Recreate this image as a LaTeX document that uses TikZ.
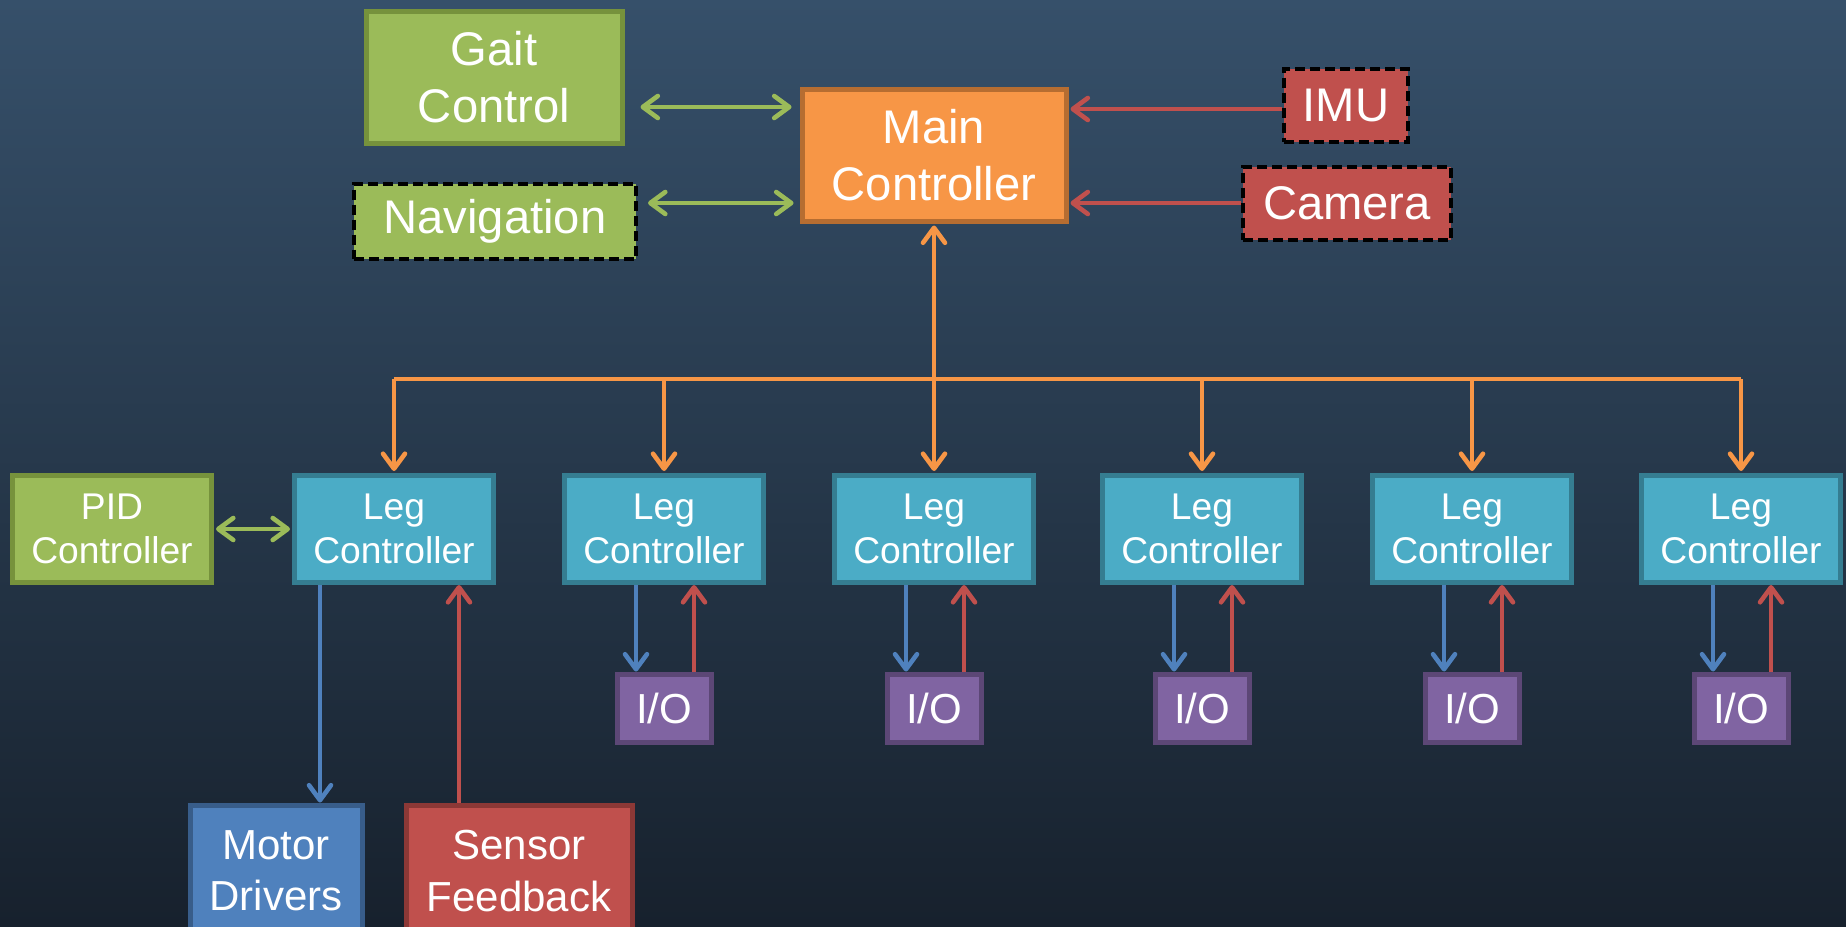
\documentclass[tikz,border=0pt]{standalone}
\usepackage{fontspec}
\setmainfont{Liberation Sans}
\usetikzlibrary{arrows.meta,positioning}
\definecolor{RoboNight}{HTML}{36506A}
\definecolor{RoboInk}{HTML}{17212D}
\definecolor{RoboGreen}{HTML}{9BBB59}
\definecolor{RoboGreenD}{HTML}{76923C}
\definecolor{RoboOrange}{HTML}{F79646}
\definecolor{RoboOrangeD}{HTML}{B66D31}
\definecolor{RoboRed}{HTML}{C0504D}
\definecolor{RoboRedD}{HTML}{8C3836}
\definecolor{RoboTeal}{HTML}{4BACC6}
\definecolor{RoboTealD}{HTML}{357D91}
\definecolor{RoboPurple}{HTML}{8064A2}
\definecolor{RoboPurpleD}{HTML}{5C4776}
\definecolor{RoboBlue}{HTML}{4F81BD}
\definecolor{RoboBlueD}{HTML}{385D8A}
\tikzset{
  blk/.style={rectangle,text=white,align=center,inner sep=0pt,line width=2.5pt},
  bigtxt/.style={font=\fontsize{23.6}{28.3}\selectfont},
  midtxt/.style={font=\fontsize{21}{25.6}\selectfont},
  smalltxt/.style={font=\fontsize{18.6}{22.3}\selectfont},
  dashbox/.style={draw=black,line width=2pt,dash pattern=on 5pt off 2.5pt},
  leg/.style={blk,smalltxt,fill=RoboTeal,draw=RoboTealD,minimum width=99.5pt,minimum height=53.5pt},
  iobox/.style={blk,midtxt,fill=RoboPurple,draw=RoboPurpleD,minimum width=47pt,minimum height=34pt},
  arr/.style={line width=2.3pt,-{Straight Barb[length=7.5pt,width=11pt,round]}},
  garr/.style={arr,RoboGreen,{Straight Barb[length=7.5pt,width=11pt,round]}-{Straight Barb[length=7.5pt,width=11pt,round]}},
  oarr/.style={arr,RoboOrange},
  rarr/.style={arr,RoboRed},
  barr/.style={arr,RoboBlue}
}
\begin{document}
\begin{tikzpicture}[x=.5pt,y=-.5pt]
\useasboundingbox (0,0) rectangle (1846,926);
\fill[top color=RoboNight,bottom color=RoboInk] (0,0) rectangle (1846,926);
% upper level
\node[blk,bigtxt,fill=RoboGreen,draw=RoboGreenD,minimum width=128pt,minimum height=66pt] (gait) at (494,77) {Gait\\Control};
\node[blk,bigtxt,fill=RoboGreen,dashbox,minimum width=141pt,minimum height=37.5pt] (nav) at (495,221) {\raisebox{-2pt}{Navigation}};
\node[blk,bigtxt,fill=RoboOrange,draw=RoboOrangeD,minimum width=132pt,minimum height=66pt] (main) at (934,155) {Main\\Controller};
\node[blk,bigtxt,fill=RoboRed,dashbox,minimum width=62pt,minimum height=36.5pt] (imu) at (1346,105) {IMU};
\node[blk,bigtxt,fill=RoboRed,dashbox,minimum width=104pt,minimum height=36.5pt] (cam) at (1347,203) {Camera};
% legs
\foreach \i/\x in {1/394,2/664,3/934,4/1202,5/1472,6/1741}
  \node[leg] (leg\i) at (\x,529) {Leg\\Controller};
\foreach \i in {2,...,6}
  \node[iobox] (io\i) at (leg\i |- 0,708) {I/O};
\node[blk,smalltxt,fill=RoboGreen,draw=RoboGreenD,minimum width=99.5pt,minimum height=53.5pt] (pid) at (112,529) {PID\\Controller};
\node[blk,midtxt,fill=RoboBlue,draw=RoboBlueD,minimum width=86pt,minimum height=66pt] (motor) at (276,871) {Motor\\Drivers};
\node[blk,midtxt,fill=RoboRed,draw=RoboRedD,minimum width=113pt,minimum height=66pt] (sensor) at (519,871) {Sensor\\Feedback};
% connectors
\draw[garr,shorten <=8pt,shorten >=4pt] ([yshift=-15pt]gait.east) -- ([yshift=-15pt]gait.east -| main.west);
\draw[garr,shorten <=5pt,shorten >=3pt] ([yshift=9pt]nav.east) -- ([yshift=9pt]nav.east -| main.west);
\draw[rarr,shorten >=1pt] ([yshift=-2pt]imu.west) -- ([yshift=-2pt]imu.west -| main.east);
\draw[rarr,shorten >=1pt] (cam.west) -- (cam.west -| main.east);
\coordinate (bus) at (934,379);
\draw[RoboOrange,line width=2.3pt] (leg1.north |- bus) -- (leg6.north |- bus);
\draw[oarr,shorten >=1pt] (bus) -- (main.south);
\foreach \i in {1,...,6}
  \draw[oarr,shorten >=1pt] (leg\i.north |- bus) -- (leg\i.north);
\draw[garr,shorten <=1pt,shorten >=1pt] (pid.east) -- (leg1.west);
\draw[barr] ([xshift=-37pt]leg1.south) -- ([xshift=-37pt]leg1.south |- motor.north);
\draw[rarr] ([xshift=32.5pt]leg1.south |- sensor.north) -- ([xshift=32.5pt]leg1.south);
\foreach \i in {2,...,6}{
  \draw[barr] ([xshift=-14pt]leg\i.south) -- ([xshift=-14pt]io\i.north);
  \draw[rarr] ([xshift=15pt]io\i.north) -- ([xshift=15pt]leg\i.south);
}
\end{tikzpicture}
\end{document}
